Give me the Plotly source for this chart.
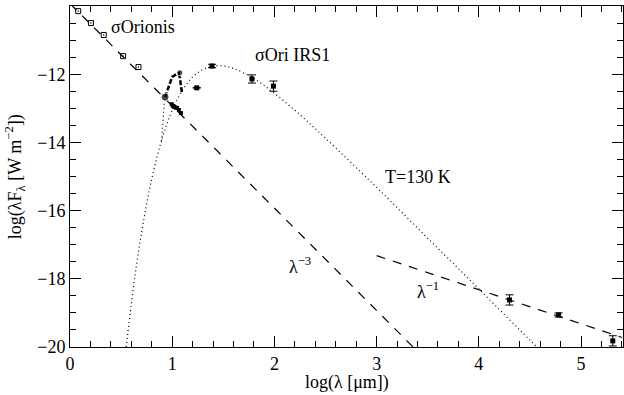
import plotly.graph_objects as go

# sigma Orionis photometry
ori_x = [0.08, 0.205, 0.33, 0.52, 0.67]
ori_y = [-10.15, -10.50, -10.85, -11.47, -11.79]

# sigma Ori IRS1 photometry (with errors)
irs_x = [1.24, 1.39, 1.78, 1.99]
irs_y = [-12.40, -11.76, -12.14, -12.35]
irs_e = [0.0, 0.05, 0.12, 0.15]

# long-wavelength points
far_x = [4.30, 4.78, 5.31]
far_y = [-18.62, -19.06, -19.82]
far_e = [0.15, 0.06, 0.15]

# mid-IR spectrum pieces near 10 micron
spec_x = [0.93, 0.94, 1.00, 1.06, 1.075]
spec_y = [-12.67, -12.58, -12.08, -11.96, -11.96]
spec2_x = [1.06, 1.075, 1.095]
spec2_y = [-11.98, -12.10, -12.55]
clus_x = [0.995, 1.007, 1.02, 1.035, 1.046, 1.065, 1.085]
clus_y = [-12.88, -12.93, -12.96, -12.98, -12.99, -13.05, -13.14]
big_x = [0.93, 1.075]
big_y = [-12.67, -11.96]

# secondary dotted model strand below the 10 micron feature
mod_x = [0.925, 0.915, 0.905, 0.895]
mod_y = [-12.75, -13.2, -13.6, -13.95]

# T=130 K blackbody curve
bb_x = [0.55, 0.60, 0.65, 0.70, 0.75, 0.80, 0.85, 0.90, 0.95, 1.00, 1.10, 1.20,
        1.30, 1.40, 1.50, 1.60, 1.80, 2.00, 2.25, 2.50, 3.00, 3.50, 4.00, 4.50, 4.60]
bb_y = [-20.0, -18.73, -17.61, -16.64, -15.80, -15.07, -14.44, -13.90, -13.44, -13.06,
        -12.47, -12.08, -11.86, -11.76, -11.76, -11.83, -12.13, -12.56, -13.19, -13.88,
        -15.32, -16.81, -18.30, -19.80, -20.10]

# power-law guide lines (end points)
l3_x = [0.0, 3.36]
l3_y = [-9.93, -20.01]
l1_x = [3.0, 5.4]
l1_y = [-17.32, -19.72]

x_ticks = [0, 1, 2, 3, 4, 5]
y_ticks = [-10, -12, -14, -16, -18, -20]

FONT = "Liberation Serif, DejaVu Serif, serif"

fig = go.Figure()
fig.add_trace(go.Scatter(x=l3_x, y=l3_y, mode="lines",
                         line=dict(color="black", width=1.2, dash="9px,8px")))
fig.add_trace(go.Scatter(x=l1_x, y=l1_y, mode="lines",
                         line=dict(color="black", width=1.2, dash="9px,8px")))
fig.add_trace(go.Scatter(x=bb_x, y=bb_y, mode="lines", line_shape="spline",
                         line=dict(color="black", width=1.2, dash="1px,3px")))
fig.add_trace(go.Scatter(x=mod_x, y=mod_y, mode="lines",
                         line=dict(color="black", width=1.2, dash="1px,3px")))
fig.add_trace(go.Scatter(x=ori_x, y=ori_y, mode="markers",
                         marker=dict(symbol="square-open-dot", size=5, color="black",
                                     line=dict(width=1, color="black"))))
fig.add_trace(go.Scatter(x=spec_x, y=spec_y, mode="lines",
                         line=dict(color="black", width=2.5, dash="5px,2px")))
fig.add_trace(go.Scatter(x=spec2_x, y=spec2_y, mode="lines",
                         line=dict(color="black", width=2.5, dash="5px,2px")))
fig.add_trace(go.Scatter(x=clus_x, y=clus_y, mode="markers+lines",
                         line=dict(color="black", width=2.5),
                         marker=dict(symbol="square", size=4, color="black")))
fig.add_trace(go.Scatter(x=big_x, y=big_y, mode="markers",
                         marker=dict(symbol="circle", size=[8, 6], color="black")))
fig.add_trace(go.Scatter(x=irs_x, y=irs_y, mode="markers",
                         marker=dict(symbol="square", size=5, color="black"),
                         error_y=dict(type="data", array=irs_e, color="black",
                                      thickness=1, width=4)))
fig.add_trace(go.Scatter(x=far_x, y=far_y, mode="markers", cliponaxis=False,
                         marker=dict(symbol="square", size=5, color="black"),
                         error_y=dict(type="data", array=far_e, color="black",
                                      thickness=1, width=4)))

ann_font = dict(family=FONT, size=18, color="black")
fig.add_annotation(x=0.71, y=-10.62, text="σOrionis", showarrow=False, font=ann_font)
fig.add_annotation(x=2.18, y=-11.44, text="σOri IRS1", showarrow=False, font=ann_font)
fig.add_annotation(x=3.40, y=-15.01, text="T=130 K", showarrow=False, font=ann_font)
fig.add_annotation(x=2.25, y=-17.6, text="λ<sup>−3</sup>", showarrow=False, font=ann_font)
fig.add_annotation(x=3.50, y=-18.33, text="λ<sup>−1</sup>", showarrow=False, font=ann_font)

# axis titles as annotations positioned in paper coordinates
fig.add_annotation(xref="paper", yref="paper", x=0.5, y=-0.105, yanchor="middle",
                   text="log(λ [μm])", showarrow=False,
                   font=dict(family=FONT, size=18, color="black"))
fig.add_annotation(xref="paper", yref="paper", x=-0.1, y=0.5, xanchor="center",
                   text="log(λF<sub>λ</sub> [W m<sup>−2</sup>])", showarrow=False, textangle=-90,
                   font=dict(family=FONT, size=18, color="black"))

axis_common = dict(showline=True, linecolor="black", linewidth=1, mirror="ticks",
                   ticks="inside", tickcolor="black", showgrid=False, zeroline=False,
                   automargin=False,
                   tickfont=dict(family=FONT, size=18, color="black"))
fig.update_xaxes(range=[0, 5.41], tickvals=x_ticks, ticklen=11,
                 minor=dict(dtick=0.2, ticklen=6, ticks="inside", tickcolor="black"),
                 **axis_common)
fig.update_yaxes(range=[-20, -10], tickvals=y_ticks,
                 ticktext=["−10", "−12", "−14", "−16", "−18", "−20"], ticklen=11,
                 minor=dict(dtick=0.5, ticklen=6, ticks="inside", tickcolor="black"),
                 **axis_common)
fig.update_layout(width=624, height=395, margin=dict(l=70, r=1, t=6, b=48),
                  plot_bgcolor="white", paper_bgcolor="white", showlegend=False)
fig.write_html("out.html", config={"displayModeBar": False},
               post_script="document.body.style.margin='0';document.body.style.overflow='hidden';")
